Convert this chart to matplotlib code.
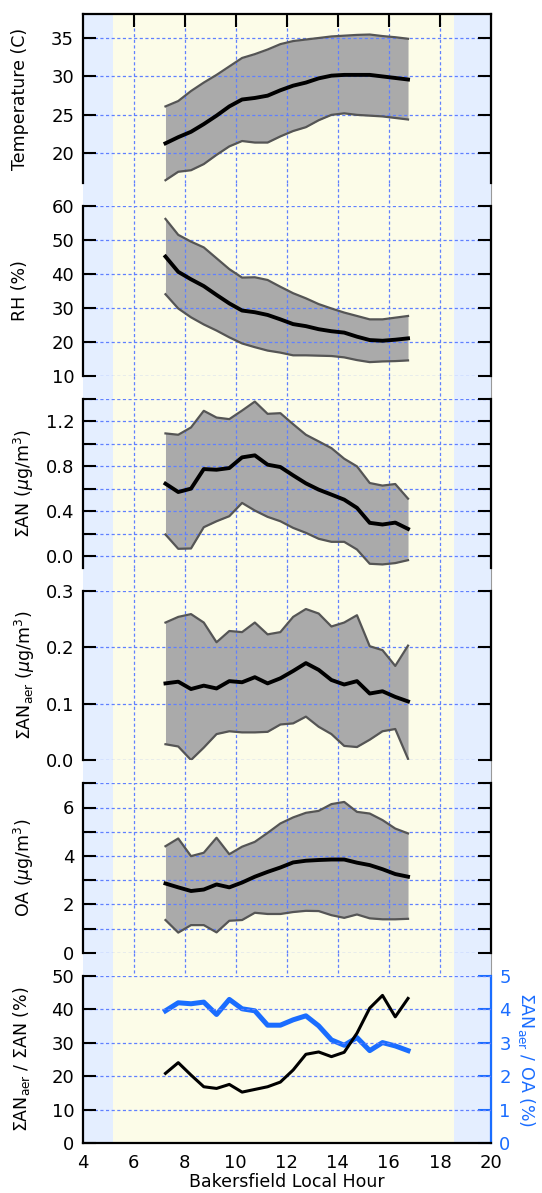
import matplotlib
matplotlib.use('Agg')
import matplotlib.pyplot as plt

plt.rcParams['font.family'] = ['DejaVu Sans']
plt.rcParams['mathtext.fontset'] = 'dejavusans'
plt.rcParams['font.size'] = 12.5
plt.rcParams['xtick.labelsize'] = 13
plt.rcParams['ytick.labelsize'] = 13

# local hour of each half-hour bin
hour = [7.25, 7.75, 8.25, 8.75, 9.25, 9.75, 10.25, 10.75, 11.25, 11.75,
        12.25, 12.75, 13.25, 13.75, 14.25, 14.75, 15.25, 15.75, 16.25, 16.75]

# temperature (C): mean and +/- 1 sd
temp_mean = [21.3, 22.1, 22.8, 23.8, 24.9, 26.1, 27.0, 27.2, 27.5, 28.2,
             28.8, 29.2, 29.75, 30.1, 30.2, 30.2, 30.2, 30.0, 29.8, 29.6]
temp_hi = [26.1, 26.8, 28.1, 29.2, 30.2, 31.3, 32.4, 32.9, 33.5, 34.2,
           34.6, 34.8, 35.0, 35.2, 35.3, 35.4, 35.45, 35.25, 35.1, 34.9]
temp_lo = [16.5, 17.6, 17.8, 18.6, 19.8, 20.9, 21.6, 21.4, 21.4, 22.2,
           22.9, 23.4, 24.3, 25.0, 25.2, 25.0, 24.9, 24.8, 24.6, 24.4]

# relative humidity (%)
rh_mean = [45.1, 40.6, 38.4, 36.4, 33.8, 31.3, 29.2, 28.7, 27.9, 26.6,
           25.2, 24.6, 23.7, 23.1, 22.7, 21.5, 20.5, 20.3, 20.6, 21.0]
rh_hi = [56.2, 51.5, 49.5, 47.8, 44.6, 41.4, 38.9, 39.0, 38.2, 36.2,
         34.3, 32.8, 31.1, 29.8, 28.6, 27.6, 26.6, 26.6, 27.1, 27.6]
rh_lo = [34.0, 29.8, 27.2, 25.1, 23.3, 21.3, 19.5, 18.4, 17.4, 16.8,
         16.0, 16.0, 15.9, 15.8, 15.4, 14.6, 14.0, 14.2, 14.3, 14.5]

# total alkyl nitrates (ug/m3)
an_mean = [0.647, 0.573, 0.603, 0.777, 0.771, 0.786, 0.881, 0.899, 0.816, 0.795,
           0.721, 0.650, 0.594, 0.550, 0.505, 0.432, 0.299, 0.284, 0.301, 0.245]
an_hi = [1.094, 1.082, 1.147, 1.295, 1.235, 1.221, 1.297, 1.377, 1.268, 1.274,
         1.176, 1.082, 1.023, 0.963, 0.869, 0.801, 0.653, 0.630, 0.644, 0.514]
an_lo = [0.195, 0.068, 0.071, 0.260, 0.313, 0.358, 0.476, 0.408, 0.352, 0.313,
         0.254, 0.210, 0.157, 0.130, 0.130, 0.062, -0.065, -0.071, -0.059, -0.033]

# aerosol-phase alkyl nitrates (ug/m3)
anaer_mean = [0.136, 0.139, 0.126, 0.132, 0.127, 0.140, 0.138, 0.147, 0.136, 0.145,
              0.158, 0.172, 0.160, 0.142, 0.134, 0.140, 0.118, 0.122, 0.112, 0.104]
anaer_hi = [0.244, 0.254, 0.259, 0.244, 0.209, 0.229, 0.227, 0.244, 0.223, 0.227,
            0.254, 0.268, 0.260, 0.237, 0.244, 0.257, 0.202, 0.195, 0.167, 0.203]
anaer_lo = [0.028, 0.024, 0.000, 0.022, 0.046, 0.051, 0.049, 0.049, 0.050, 0.063,
            0.065, 0.077, 0.059, 0.046, 0.025, 0.023, 0.036, 0.051, 0.055, 0.002]

# organic aerosol (ug/m3)
oa_mean = [2.86, 2.70, 2.55, 2.61, 2.82, 2.70, 2.90, 3.14, 3.34, 3.52,
           3.73, 3.80, 3.83, 3.85, 3.85, 3.72, 3.62, 3.45, 3.25, 3.14]
oa_hi = [4.40, 4.72, 3.99, 4.13, 4.75, 4.07, 4.38, 4.58, 4.95, 5.34,
         5.59, 5.78, 5.86, 6.14, 6.23, 5.82, 5.75, 5.48, 5.13, 4.93]
oa_lo = [1.35, 0.83, 1.14, 1.14, 0.84, 1.32, 1.35, 1.65, 1.60, 1.60,
         1.68, 1.73, 1.72, 1.55, 1.44, 1.58, 1.42, 1.38, 1.38, 1.40]

# ratios (%)
ratio_an = [20.9, 24.1, 20.4, 16.9, 16.4, 17.6, 15.3, 16.1, 16.9, 18.3,
            21.9, 26.6, 27.3, 25.9, 27.2, 32.9, 40.4, 44.2, 37.8, 43.3]
ratio_oa = [3.96, 4.20, 4.17, 4.22, 3.85, 4.30, 4.02, 3.96, 3.53, 3.53,
            3.69, 3.81, 3.51, 3.09, 2.93, 3.16, 2.77, 3.01, 2.91, 2.77]

xticks = [4, 6, 8, 10, 12, 14, 16, 18, 20]
grid_hours = [6, 8, 10, 12, 14, 16, 18]
sunrise, sunset = 5.2, 18.55

day_c = '#fcfce8'
night_c = '#e4eeff'
grid_c = '#6080ff'
fill_c = '#aaaaaa'
edge_c = '#555555'
blue = '#1a6dff'
dash = (0, (2.5, 2))

W, H = 542, 1193
LEFT, RIGHT = 82.5, 491.0


def rect(top, bottom):
    return [LEFT / W, 1 - bottom / H, (RIGHT - LEFT) / W, (bottom - top) / H]


fig = plt.figure(figsize=(W / 100, H / 100), dpi=100)

# panel extents in pixels (top, bottom)
rows = [(14, 183), (206, 375.7), (399, 567.7), (591, 760), (783.3, 952.7), (976, 1143.3)]

# background: day / night shading and vertical grid in the gaps between panels
bg = fig.add_axes(rect(rows[0][0], rows[-1][1]))
bg.set_xlim(4, 20)
bg.set_ylim(rows[-1][1], rows[0][0])
bg.axvspan(4, sunrise, color=night_c, lw=0)
bg.axvspan(sunrise, sunset, color=day_c, lw=0)
bg.axvspan(sunset, 20, color=night_c, lw=0)
for (t0, b0), (t1, b1) in zip(rows[:-1], rows[1:]):
    for h in grid_hours:
        bg.plot([h, h], [b0, t1], color=grid_c, lw=0.9, ls=dash)
bg.axvline(20, color='#999999', lw=0.8, clip_on=False)
bg.axis('off')


def panel(i, ylim, yticks, ylabel, label_px, labels=None):
    top, bottom = rows[i]
    ax = fig.add_axes(rect(top, bottom), facecolor='none')
    ax.set_xlim(4, 20)
    ax.set_ylim(*ylim)
    ax.set_yticks(yticks)
    if labels is not None:
        ax.set_yticklabels(labels)
    ax.set_axisbelow('line')
    ax.grid(axis='y', color=grid_c, lw=0.9, ls=dash)
    ax.set_xticks([])
    ax.set_xticks(grid_hours, minor=True)
    ax.grid(axis='x', which='minor', color=grid_c, lw=0.9, ls=dash)
    ax.tick_params(axis='x', which='both', bottom=False, top=False, labelbottom=False)
    ax.tick_params(axis='y', direction='in', length=9.5, width=1.5, left=True, right=True, pad=6)
    for s in ['top', 'bottom']:
        ax.spines[s].set_visible(False)
    for s in ['left', 'right']:
        ax.spines[s].set_linewidth(1.6)
    ax.set_ylabel(ylabel, va='center')
    ax.yaxis.set_label_coords((label_px - LEFT) / (RIGHT - LEFT), 0.5)
    return ax


def band(ax, lo, mid, hi):
    ax.fill_between(hour, lo, hi, color=fill_c, lw=0)
    ax.plot(hour, hi, color=edge_c, lw=1.6)
    ax.plot(hour, lo, color=edge_c, lw=1.6)
    ax.plot(hour, mid, color='k', lw=2.8)


ax1 = panel(0, (16.14, 38.12), [20, 25, 30, 35], 'Temperature (C)', 20)
ax1.spines['top'].set_visible(True)
ax1.spines['top'].set_linewidth(1.6)
ax1.tick_params(axis='x', which='minor', top=True, direction='in', length=9.5, width=1.5)
band(ax1, temp_lo, temp_mean, temp_hi)

ax2 = panel(1, (10, 60), [10, 20, 30, 40, 50, 60], 'RH (%)', 20)
band(ax2, rh_lo, rh_mean, rh_hi)

an_ticks = [0.0, 0.2, 0.4, 0.6, 0.8, 1.0, 1.2, 1.4]
an_labels = ['0.0', '', '0.4', '', '0.8', '', '1.2', '']
ax3 = panel(2, (-0.1, 1.4), an_ticks, r'$\Sigma$AN ($\mu$g/m$^3$)', 24, an_labels)
band(ax3, an_lo, an_mean, an_hi)

ax4 = panel(3, (0, 0.3), [0.0, 0.1, 0.2, 0.3], r'$\Sigma$AN$_{\rm aer}$ ($\mu$g/m$^3$)', 25,
            ['0.0', '0.1', '0.2', '0.3'])
band(ax4, anaer_lo, anaer_mean, anaer_hi)

oa_ticks = [0, 1, 2, 3, 4, 5, 6, 7]
oa_labels = ['0', '', '2', '', '4', '', '6', '']
ax5 = panel(4, (0, 7), oa_ticks, r'OA ($\mu$g/m$^3$)', 24, oa_labels)
band(ax5, oa_lo, oa_mean, oa_hi)

ax6 = panel(5, (0, 50), [0, 10, 20, 30, 40, 50], r'$\Sigma$AN$_{\rm aer}$ / $\Sigma$AN (%)', 22)
ax6r = ax6.twinx()
ax6r.set_ylim(0, 5)
ax6r.set_yticks([0, 1, 2, 3, 4, 5])
ax6r.plot(hour, ratio_oa, color=blue, lw=3.6)
for s in ['top', 'bottom', 'left']:
    ax6r.spines[s].set_visible(False)
ax6r.spines['right'].set_color(blue)
ax6r.spines['right'].set_linewidth(1.6)
ax6r.tick_params(axis='y', direction='in', length=9.5, width=1.5, colors=blue, pad=6)
ax6r.set_ylabel(r'$\Sigma$AN$_{\rm aer}$ / OA (%)', color=blue, rotation=270, va='center')
ax6r.yaxis.set_label_coords((527 - LEFT) / (RIGHT - LEFT), 0.5)

ax6.spines['right'].set_visible(False)
ax6.tick_params(axis='y', right=False)
ax6.spines['bottom'].set_visible(True)
ax6.spines['bottom'].set_linewidth(1.6)
ax6.set_xticks(xticks)
ax6.tick_params(axis='x', which='major', length=0, labelbottom=True, pad=8)
ax6.tick_params(axis='x', which='minor', bottom=True, direction='in', length=9.5, width=1.5)
ax6.plot(hour, ratio_an, color='k', lw=2.2)
ax6.set_xlabel('Bakersfield Local Hour', va='center')
ax6.xaxis.set_label_coords(0.5, -(1182 - 1143.3) / (1143.3 - 976))
ax6.set_zorder(ax6r.get_zorder() + 1)

fig.savefig('out.png', dpi=100)
